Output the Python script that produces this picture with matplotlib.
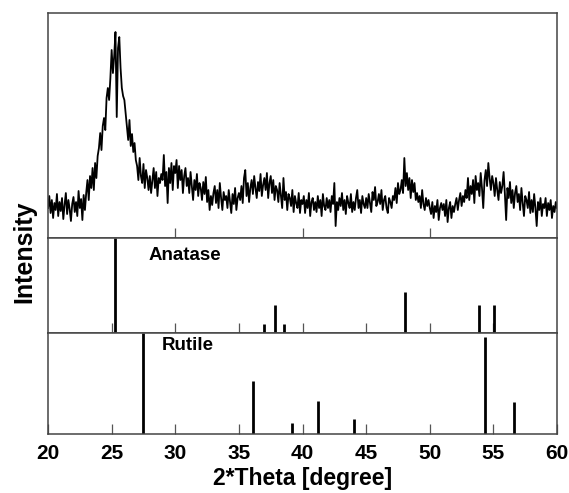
import matplotlib
matplotlib.use("Agg")
import matplotlib.pyplot as plt
import numpy as np

plt.rcParams["font.family"] = ["Liberation Sans", "DejaVu Sans"]

# measured pattern, 0.1 degree steps from 20.0 to 60.0 (arbitrary units)
two_theta = np.round(np.arange(200, 601) / 10.0, 1)
counts = [
    30, 42, 25, 38, 20, 35, 28, 44, 22, 36,      # 20
    27, 40, 19, 33, 45, 24, 38, 29, 17, 34,      # 21
    41, 26, 36, 22, 47, 30, 39, 18, 43, 28,      # 22
    45, 58, 38, 62, 50, 70, 48, 75, 60, 82,      # 23
    90, 105, 88, 112, 120, 108, 140, 150, 138, 160,  # 24
    188, 165, 182, 206, 121, 190, 201, 170, 150, 142,  # 25
    138, 125, 112, 98, 118, 92, 104, 86, 95, 78,  # 26
    72, 58, 80, 62, 55, 74, 50, 68, 60, 48,      # 27
    62, 45, 58, 70, 50, 66, 42, 60, 55, 64,      # 28
    58, 83, 52, 66, 35, 70, 55, 75, 48, 72,      # 29
    65, 78, 50, 72, 58, 68, 45, 62, 70, 52,      # 30
    60, 45, 66, 52, 38, 58, 48, 64, 42, 55,      # 31
    50, 38, 56, 44, 61, 36, 48, 28, 42, 33,      # 32
    45, 52, 35, 48, 30, 55, 40, 28, 46, 38,      # 33
    42, 30, 48, 36, 25, 44, 34, 50, 28, 40,      # 34
    45, 38, 52, 35, 60, 68, 42, 55, 36, 50,      # 35
    58, 44, 62, 50, 40, 56, 47, 64, 42, 53,      # 36
    60, 48, 65, 40, 55, 62, 45, 58, 38, 52,      # 37
    48, 36, 55, 42, 30, 60, 38, 46, 28, 44,      # 38
    40, 32, 48, 26, 42, 35, 30, 45, 25, 38,      # 39
    34, 42, 25, 38, 30, 45, 22, 36, 40, 28,      # 40
    36, 26, 42, 30, 38, 22, 44, 32, 28, 40,      # 41
    30, 38, 26, 42, 34, 55, 12, 36, 28, 40,      # 42
    32, 45, 28, 38, 24, 42, 35, 30, 44, 26,      # 43
    36, 28, 40, 48, 30, 38, 25, 42, 34, 30,      # 44
    40, 30, 44, 35, 26, 46, 38, 51, 32, 36,      # 45
    44, 34, 48, 28, 38, 42, 30, 25, 40, 36,      # 46
    30, 42, 38, 50, 35, 55, 44, 48, 58, 45,      # 47
    80, 52, 65, 48, 60, 40, 58, 46, 55, 38,      # 48
    45, 36, 42, 30, 48, 34, 28, 40, 32, 38,      # 49
    30, 24, 36, 20, 32, 26, 38, 18, 30, 35,      # 50
    28, 34, 22, 38, 16, 30, 36, 20, 32, 26,      # 51
    34, 40, 28, 38, 45, 32, 42, 36, 48, 40,      # 52
    60, 38, 52, 44, 58, 35, 62, 48, 55, 42,      # 53
    65, 50, 30, 58, 68, 52, 75, 60, 48, 62,      # 54
    55, 42, 60, 48, 38, 56, 45, 52, 66, 44,      # 55
    18, 50, 40, 56, 35, 48, 30, 45, 52, 36,      # 56
    44, 28, 50, 35, 22, 42, 38, 30, 46, 25,      # 57
    38, 26, 44, 30, 12, 36, 28, 40, 22, 34,      # 58
    30, 40, 22, 35, 28, 38, 20, 32, 26, 36,      # 59
    30,                                          # 60
]

# reference patterns (position, relative intensity)
anatase_pos = [25.28, 36.95, 37.80, 38.57, 48.05, 53.89, 55.06]
anatase_int = [1.00, 0.10, 0.29, 0.10, 0.43, 0.29, 0.29]
rutile_pos = [27.45, 36.09, 39.19, 41.23, 44.05, 54.32, 56.64]
rutile_int = [1.00, 0.52, 0.11, 0.33, 0.15, 0.96, 0.32]

tick_pos = [20, 25, 30, 35, 40, 45, 50, 55, 60]
tick_lab = ["20", "25", "30", "35", "40", "45", "50", "55", "60"]

FRAME = "#444444"

fig = plt.figure(figsize=(5.69, 4.93), dpi=100)
left, width = 0.0844, 0.8946
ax_top = fig.add_axes([left, 0.5172, width, 0.4564])
ax_ana = fig.add_axes([left, 0.3245, width, 0.1927])
ax_rut = fig.add_axes([left, 0.1197, width, 0.2049])

ax_top.plot(two_theta, counts, color="black", lw=1.3)
ax_top.set_ylim(0, 225)

ax_ana.vlines(anatase_pos, 0, anatase_int, color="black", lw=2.0)
ax_ana.set_ylim(0, 1.0)
ax_rut.vlines(rutile_pos, 0, rutile_int, color="black", lw=2.0)
ax_rut.set_ylim(0, 1.0)

for ax in (ax_top, ax_ana, ax_rut):
    ax.set_xlim(20, 60)
    ax.set_yticks([])
    for s in ax.spines.values():
        s.set_color(FRAME)
        s.set_linewidth(1.1)
    ax.tick_params(axis="x", direction="in", length=7, width=0.9,
                   color="#555555", top=False)

ax_top.set_xticks([30, 40, 50])
ax_top.tick_params(axis="x", labelbottom=False)
ax_ana.set_xticks(tick_pos[1:-1])
ax_ana.tick_params(axis="x", labelbottom=False)
ax_rut.set_xticks(tick_pos)
ax_rut.set_xticklabels(tick_lab, fontsize=15, fontweight="bold")
ax_rut.tick_params(axis="x", pad=7)

ax_ana.text(27.86, 0.91, "Anatase", fontsize=13.5, fontweight="bold",
            va="top", ha="left", transform=ax_ana.get_xaxis_transform())
ax_rut.text(28.96, 0.965, "Rutile", fontsize=13.5, fontweight="bold",
            va="top", ha="left", transform=ax_rut.get_xaxis_transform())

ax_rut.set_xlabel("2*Theta [degree]", fontsize=16.5, fontweight="bold",
                  labelpad=3)
fig.text(0.043, 0.489, "Intensity", rotation=90, fontsize=18,
         fontweight="bold", ha="center", va="center")

fig.savefig("out.png", dpi=100)
